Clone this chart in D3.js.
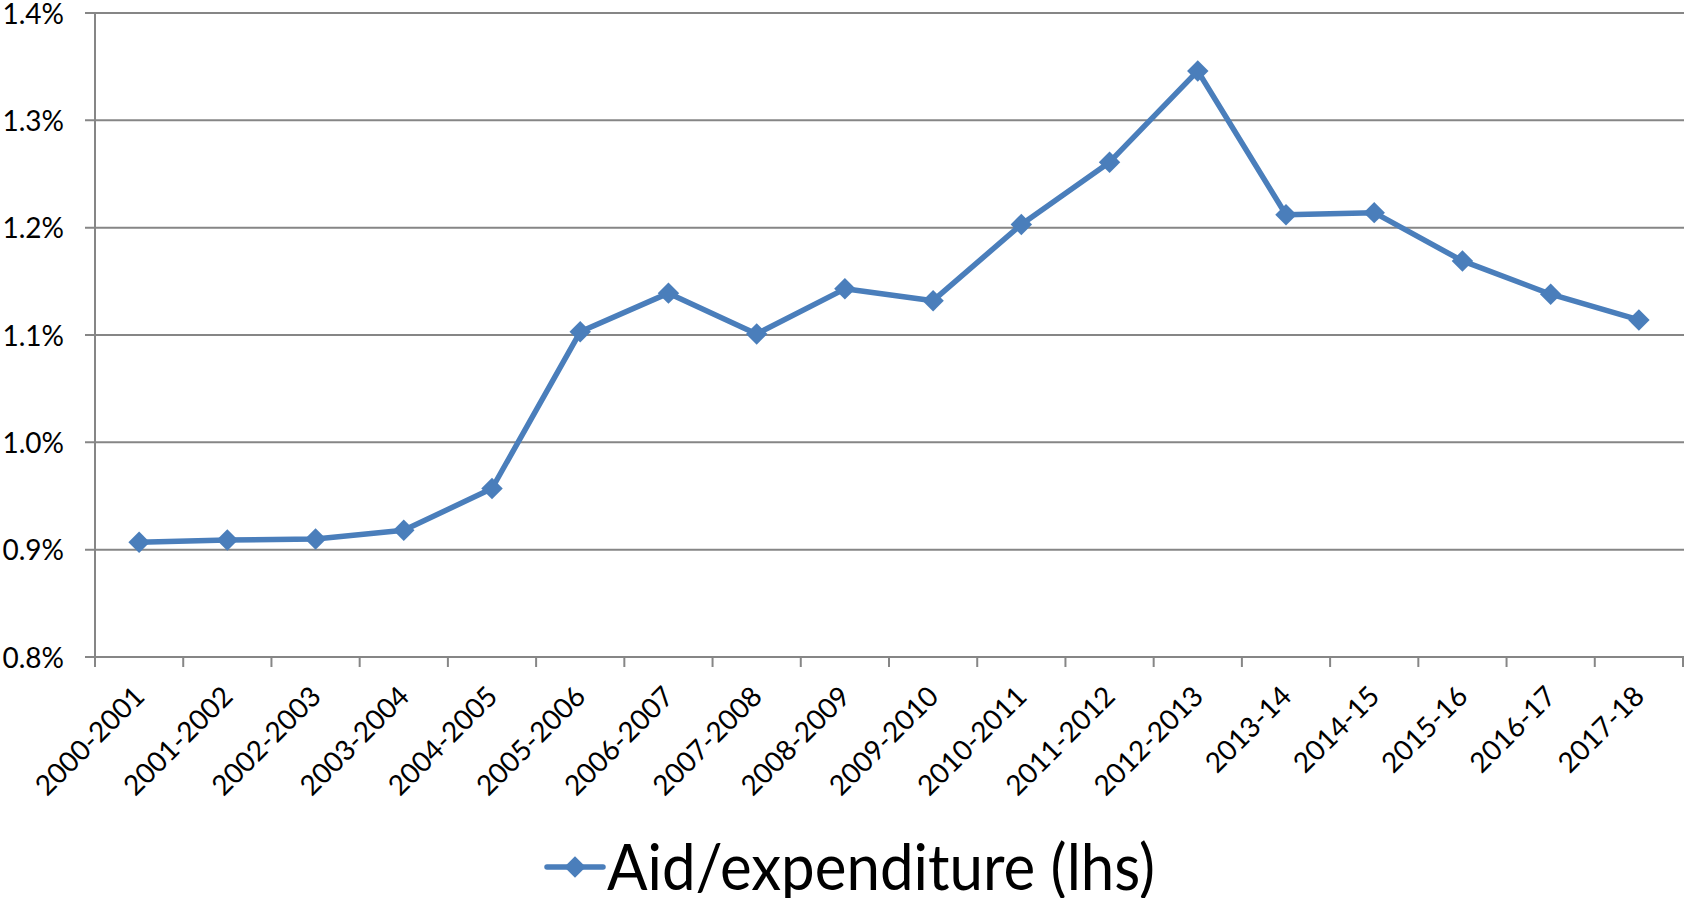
<!DOCTYPE html>
<html>
<head>
<meta charset="utf-8">
<script src="https://cdn.jsdelivr.net/npm/d3@7"></script>
<style>
  body { margin: 0; background: #fff; }
  svg { display: block; font-family: Lato, "Open Sans", sans-serif; }
</style>
</head>
<body>
<svg width="1684" height="898"></svg>
<script>
var years = ["2000-2001","2001-2002","2002-2003","2003-2004","2004-2005","2005-2006",
  "2006-2007","2007-2008","2008-2009","2009-2010","2010-2011","2011-2012","2012-2013",
  "2013-14","2014-15","2015-16","2016-17","2017-18"]
var aidShare = [0.907, 0.909, 0.910, 0.918, 0.957, 1.103, 1.139, 1.101, 1.143, 1.132,
  1.203, 1.261, 1.346, 1.212, 1.214, 1.169, 1.138, 1.114]
var yTicks = [0.8, 0.9, 1.0, 1.1, 1.2, 1.3, 1.4]
var seriesName = "Aid/expenditure (lhs)"

var blue = "#4a7ebb"
var grid = "#868686"

var svg = d3.select("svg")

var x = d3.scaleBand().domain(years).range([95, 1683])
var y = d3.scaleLinear().domain([0.8, 1.4]).range([657, 13])

// horizontal gridlines + left tick marks
svg.append("g")
  .selectAll("line")
  .data(yTicks)
  .enter()
  .append("line")
    .attr("x1", 85)
    .attr("x2", 1684)
    .attr("y1", function(d){ return y(d) })
    .attr("y2", function(d){ return y(d) })
    .attr("stroke", grid)
    .attr("stroke-width", 2)

svg.append("g")
  .selectAll("text")
  .data(yTicks)
  .enter()
  .append("text")
    .attr("x", 64)
    .attr("y", function(d){ return y(d) })
    .attr("dy", "0.38em")
    .attr("text-anchor", "end")
    .attr("font-size", 28)
    .attr("fill", "#000")
    .text(function(d){ return d.toFixed(1) + "%" })

// y axis line
svg.append("line")
  .attr("x1", 95).attr("x2", 95)
  .attr("y1", y(1.4)).attr("y2", 667)
  .attr("stroke", grid).attr("stroke-width", 2)

// x ticks at band edges
var edges = years.map(function(d){ return x(d) }).concat([x.range()[1]])
svg.append("g")
  .selectAll("line")
  .data(edges.slice(1))
  .enter()
  .append("line")
    .attr("x1", function(d){ return d }).attr("x2", function(d){ return d })
    .attr("y1", y(0.8)).attr("y2", 667)
    .attr("stroke", grid).attr("stroke-width", 2)

// x labels, rotated
svg.append("g")
  .selectAll("text")
  .data(years)
  .enter()
  .append("text")
    .attr("transform", function(d){
      var cx = x(d) + x.bandwidth()/2
      return `translate(${cx}, 691) rotate(-45)`
    })
    .attr("text-anchor", "end")
    .attr("dy", "0.36em")
    .attr("font-size", 28)
    .attr("fill", "#000")
    .text(function(d){ return d })

// the line
var line = d3.line()
  .x(function(d, i){ return x(years[i]) + x.bandwidth()/2 })
  .y(function(d){ return y(d) })

svg.append("path")
  .datum(aidShare)
  .attr("d", line)
  .attr("fill", "none")
  .attr("stroke", blue)
  .attr("stroke-width", 5.5)
  .attr("stroke-linejoin", "round")

var diamond = d3.symbol().type(d3.symbolSquare).size(230)
svg.append("g")
  .selectAll("path")
  .data(aidShare)
  .enter()
  .append("path")
    .attr("d", diamond)
    .attr("transform", function(d, i){
      return `translate(${x(years[i]) + x.bandwidth()/2}, ${y(d)}) rotate(45)`
    })
    .attr("fill", blue)

// legend
var leg = svg.append("g").attr("transform", "translate(0, 867)")
leg.append("line")
  .attr("x1", 547).attr("x2", 603)
  .attr("stroke", blue).attr("stroke-width", 5.5)
  .attr("stroke-linecap", "round")
leg.append("path")
  .attr("d", diamond)
  .attr("transform", "translate(575, 0) rotate(45)")
  .attr("fill", blue)
leg.append("text")
  .attr("x", 607)
  .attr("dy", "0.36em")
  .attr("font-size", 64)
  .attr("textLength", 548)
  .attr("lengthAdjust", "spacingAndGlyphs")
  .attr("fill", "#000")
  .text(seriesName)
</script>
</body>
</html>
